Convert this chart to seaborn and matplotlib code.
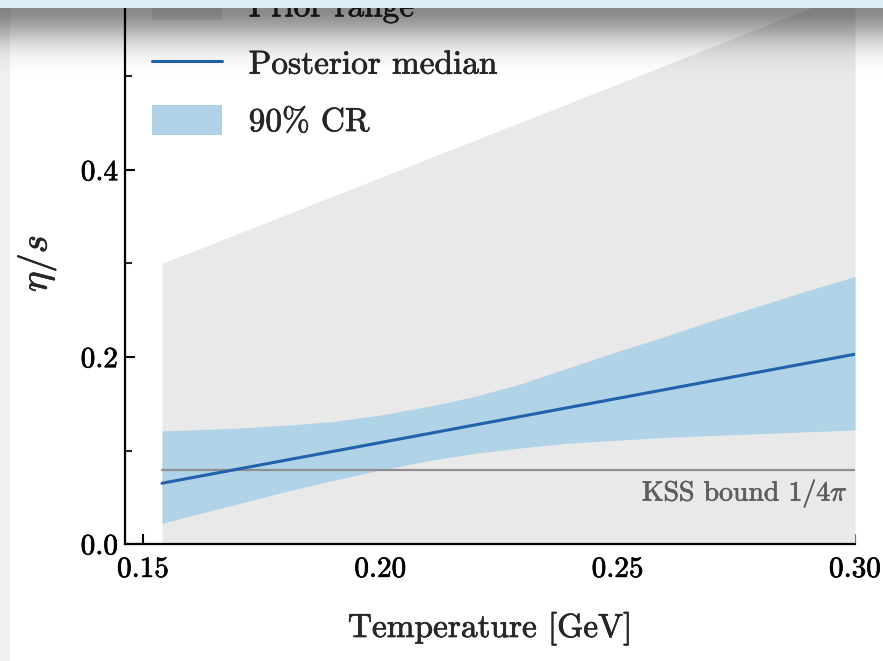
import numpy as np
import matplotlib
matplotlib.use("Agg")
import matplotlib.pyplot as plt
import matplotlib.patheffects as pe
from matplotlib.patches import Patch, Rectangle
from matplotlib.lines import Line2D
from matplotlib.ticker import FormatStrFormatter, MultipleLocator
import seaborn as sns

# Temperature-dependent shear viscosity eta/s(T)
T_edges = [0.154, 0.30]                 # GeV
prior_lo = [0.0, 0.0]
prior_hi = [0.30, 0.592]

median_T = [0.154, 0.30]
median_eta = [0.065, 0.203]

band_T = [0.154, 0.16, 0.17, 0.18, 0.19, 0.20, 0.21, 0.22, 0.23, 0.24,
          0.25, 0.26, 0.27, 0.28, 0.29, 0.30]
band_lo = [0.022, 0.030, 0.043, 0.056, 0.068, 0.079, 0.089, 0.097, 0.103, 0.108,
           0.111, 0.114, 0.116, 0.118, 0.120, 0.122]
band_hi = [0.121, 0.122, 0.124, 0.127, 0.131, 0.138, 0.147, 0.158, 0.172, 0.189,
           0.206, 0.222, 0.239, 0.255, 0.271, 0.286]

kss_bound = 1.0 / (4.0 * np.pi)

x_ticks = [0.15, 0.20, 0.25, 0.30]
y_ticks = [0.0, 0.2, 0.4]

legend_labels = ["Prior range", "Posterior median", "90% CR"]

GRAY_FILL = "#e9e9e9"
BAND = "#b1d3e7"
MEDIAN = "#2262ad"
KSS_LINE = "#8e8e8e"

sns.set_style("ticks")
plt.rcParams["font.family"] = ["cmr10"]
plt.rcParams["mathtext.fontset"] = "cm"
plt.rcParams["axes.formatter.use_mathtext"] = True
plt.rcParams["axes.unicode_minus"] = False

W, H = 883, 661
fig = plt.figure(figsize=(W / 100, H / 100), dpi=100)
fig.patch.set_facecolor("white")

# axes box in pixels: left 125, right 855, bottom 544, top -17 (runs past the top edge)
ax = fig.add_axes([125 / W, (H - 544) / H, (855 - 125) / W, (544 + 17) / H])
ax.set_facecolor("white")

ax.fill_between(T_edges, prior_lo, prior_hi, color=GRAY_FILL, lw=0, zorder=1)
ax.fill_between(band_T, band_lo, band_hi, color=BAND, lw=0, zorder=2)
sns.lineplot(x=[T_edges[0], T_edges[1]], y=[kss_bound, kss_bound], ax=ax,
             color=KSS_LINE, lw=1.6, zorder=3)
sns.lineplot(x=median_T, y=median_eta, ax=ax, color=MEDIAN, lw=2.2, zorder=4)

kss_text = ax.text(0.2985, 0.054, r"KSS bound $1/4\pi$", ha="right", va="center",
                   fontsize=20, color="#5e5e5e", zorder=5)

ax.set_xlim(0.1462, 0.30)
ax.set_ylim(0.0, 0.6)
ax.set_xticks(x_ticks)
ax.set_yticks(y_ticks)
ax.xaxis.set_minor_locator(MultipleLocator(0.025))
ax.yaxis.set_minor_locator(MultipleLocator(0.1))
ax.xaxis.set_major_formatter(FormatStrFormatter("%.2f"))
ax.yaxis.set_major_formatter(FormatStrFormatter("%.1f"))
ax.tick_params(which="major", direction="in", length=7, width=1.5, labelsize=21,
               colors="black")
ax.tick_params(which="minor", direction="in", length=5, width=1.5)
ax.tick_params(axis="x", which="major", pad=9)
ax.tick_params(axis="y", which="major", pad=5)

for side in ("top", "right"):
    ax.spines[side].set_visible(False)
for side in ("left", "bottom"):
    ax.spines[side].set_linewidth(1.6)
    ax.spines[side].set_color("black")

ax.set_xlabel("Temperature [GeV]", fontsize=24, labelpad=21)
ax.set_ylabel(r"$\eta/s$", fontsize=28, labelpad=16)

handles = [
    Patch(facecolor=GRAY_FILL, edgecolor="none"),
    Line2D([], [], color=MEDIAN, lw=2.2),
    Patch(facecolor=BAND, edgecolor="none"),
]
leg = fig.legend(handles, legend_labels, loc="upper left",
                 bbox_to_anchor=(152 / W, 1 + 10 / H), bbox_transform=fig.transFigure,
                 frameon=False, fontsize=24, borderpad=0, borderaxespad=0,
                 handlelength=2.1, handleheight=1.0, handletextpad=0.8,
                 labelspacing=0.75)

# slightly heavier strokes on all text
texts = (ax.get_xticklabels() + ax.get_yticklabels() + leg.get_texts()
         + [ax.xaxis.label, ax.yaxis.label, kss_text])
for t in texts:
    t.set_path_effects([pe.withStroke(linewidth=0.5, foreground=t.get_color())])

# window chrome across the top and left edge
over = fig.add_axes([0, 0, 1, 1], zorder=10)
over.set_axis_off()
ys = np.arange(8, 130)
alpha = 0.46 * np.exp(-((ys - 8) / 33.0) ** 2)
grad = np.zeros((len(ys), 1, 4))
grad[:, 0, 3] = alpha
over.imshow(grad, extent=[0, W, 130, 8], aspect="auto", interpolation="bilinear", zorder=1)
over.add_patch(Rectangle((0, 0), W, 8, facecolor="#ddeef9", edgecolor="none", zorder=2))
over.add_patch(Rectangle((0, 8), 10, H, facecolor="#f1f1f1", edgecolor="none", zorder=0))
over.set_xlim(0, W)
over.set_ylim(H, 0)

fig.savefig("out.png", dpi=100)
